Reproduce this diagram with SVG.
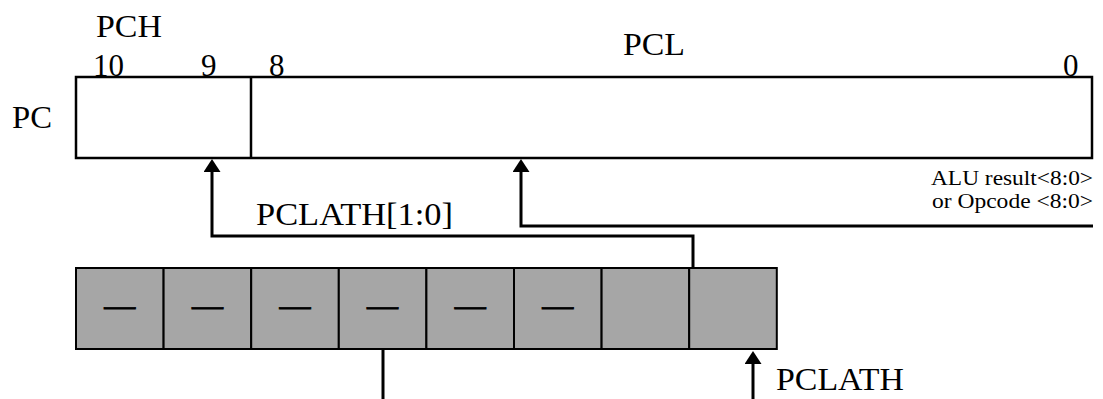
<svg xmlns="http://www.w3.org/2000/svg" width="1103" height="399" viewBox="0 0 1103 399">
  <style>
    .lbl { font-family: "Liberation Serif", "Times New Roman", serif; font-size: 31px; fill: #000; }
    .dash { font-family: "Liberation Serif", "Times New Roman", serif; font-size: 31px; fill: #000; stroke: #000; stroke-width: 0.9; }
    .sm { font-family: "Liberation Serif", "Times New Roman", serif; font-size: 21px; fill: #000; }
    .box { fill: #fff; stroke: #000; stroke-width: 2.5; }
    .cell { fill: #a6a6a6; stroke: #000; stroke-width: 2; }
    .wire { fill: none; stroke: #000; stroke-width: 3; }
  </style>
  <defs>
    <!-- filled arrowhead; its base sits on the line end, tip 13px beyond -->
    <marker id="arrow" viewBox="0 0 13 17" refX="0" refY="8.5" markerWidth="13" markerHeight="17" markerUnits="userSpaceOnUse" orient="auto">
      <path d="M0,0 L13,8.5 L0,17 Z" fill="#000"/>
    </marker>
  </defs>

  <!-- program counter register -->
  <g id="pc">
    <rect class="box" x="76" y="77" width="1016" height="81"/>
    <line x1="251" y1="77" x2="251" y2="158" stroke="#000" stroke-width="2.5"/>
    <text class="lbl" x="12" y="128" textLength="40" lengthAdjust="spacingAndGlyphs">PC</text>
    <text class="lbl" x="96" y="37" textLength="66" lengthAdjust="spacingAndGlyphs">PCH</text>
    <text class="lbl" x="623" y="55" textLength="62" lengthAdjust="spacingAndGlyphs">PCL</text>
    <text class="lbl" x="93" y="76">10</text>
    <text class="lbl" x="201" y="76">9</text>
    <text class="lbl" x="269" y="76">8</text>
    <text class="lbl" x="1063" y="76">0</text>
  </g>

  <!-- PCLATH register: 8 cells, upper 6 unimplemented -->
  <g id="pclath">
    <rect class="cell" x="76" y="268" width="87.6" height="81"/>
    <rect class="cell" x="163.6" y="268" width="87.6" height="81"/>
    <rect class="cell" x="251.2" y="268" width="87.6" height="81"/>
    <rect class="cell" x="338.8" y="268" width="87.6" height="81"/>
    <rect class="cell" x="426.4" y="268" width="87.6" height="81"/>
    <rect class="cell" x="514" y="268" width="87.6" height="81"/>
    <rect class="cell" x="601.6" y="268" width="87.6" height="81"/>
    <rect class="cell" x="689.2" y="268" width="87.6" height="81"/>
    <g class="dash" text-anchor="middle">
      <text x="119.8" y="316">—</text>
      <text x="207.4" y="316">—</text>
      <text x="295" y="316">—</text>
      <text x="382.6" y="316">—</text>
      <text x="470.2" y="316">—</text>
      <text x="557.8" y="316">—</text>
    </g>
  </g>

  <!-- signal labels -->
  <g id="labels">
    <text class="lbl" x="256" y="225" textLength="197" lengthAdjust="spacingAndGlyphs">PCLATH[1:0]</text>
    <text class="lbl" x="776" y="390" textLength="128" lengthAdjust="spacingAndGlyphs">PCLATH</text>
    <text class="sm" x="931" y="185" textLength="162" lengthAdjust="spacingAndGlyphs">ALU result&lt;8:0&gt;</text>
    <text class="sm" x="932" y="208" textLength="161" lengthAdjust="spacingAndGlyphs">or Opcode &lt;8:0&gt;</text>
  </g>

  <!-- connectors -->
  <g id="connectors">
    <polyline class="wire" points="693,268 693,236 212,236 212,172" marker-end="url(#arrow)"/>
    <polyline class="wire" points="1093,226 521,226 521,172" marker-end="url(#arrow)"/>
    <line class="wire" x1="383" y1="349" x2="383" y2="399"/>
    <line class="wire" x1="753" y1="399" x2="753" y2="364" marker-end="url(#arrow)"/>
  </g>
</svg>
